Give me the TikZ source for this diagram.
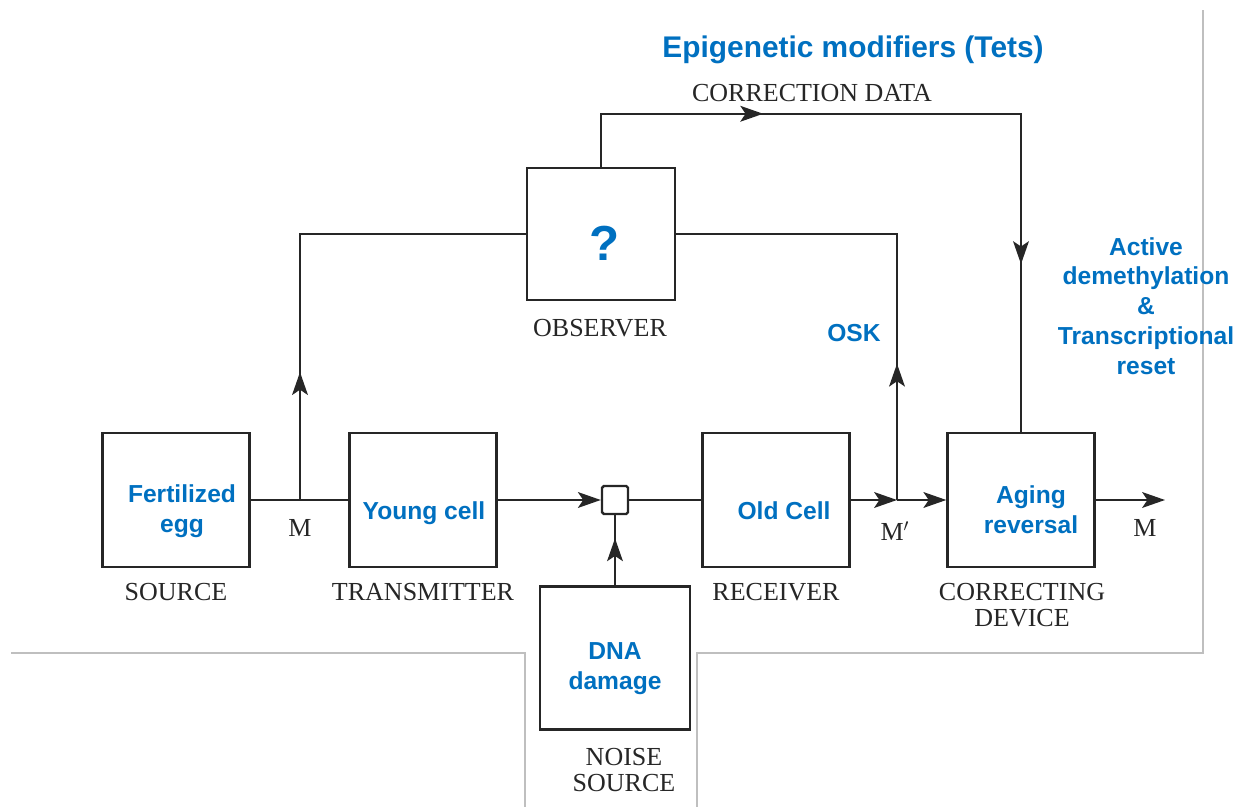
\documentclass[tikz,border=0pt]{standalone}
\usepackage{fontspec}
\setmainfont{Liberation Serif}
\setsansfont{Liberation Sans}
\usetikzlibrary{arrows.meta,decorations.markings}
\definecolor{epiblue}{RGB}{0,112,192}

\tikzset{
  block/.style={draw=black!85,line width=1.4pt,minimum width=2.94cm,minimum height=2.68cm},
  tag/.style={font=\fontsize{14.8}{14.5}\selectfont,align=center,text=black!85},
  bluetext/.style={font=\sffamily\bfseries\fontsize{14}{17}\selectfont,text=epiblue,align=center},
  wire/.style={draw=black!85,line width=1.1pt},
  tip/.style={-{Stealth[length=13pt,width=9pt,inset=3pt]}},
  midtip/.style={postaction={decorate,decoration={markings,
    mark=at position #1 with {\arrow{Stealth[length=13pt,width=9pt,inset=3pt]}}}}},
  frame/.style={draw=black!25,line width=0.6pt}
}

\begin{document}
\begin{tikzpicture}[x=0.02cm,y=-0.02cm]
\useasboundingbox (0,0) rectangle (1248,807);

% screenshot edges
\draw[frame] (11,653) -- (525,653) -- (525,807);
\draw[frame] (697,807) -- (697,653) -- (1203,653) -- (1203,10);

% blocks
\node[block] (src) at (176,500) {};
\node[bluetext] (srctext) at (182,511) {Fertilized\\egg};
\node[tag] (srclab) at (176,592) {SOURCE};
\node[block] (tx) at (423,500) {};
\node[bluetext] (txtext) at (424,513) {Young cell};
\node[tag] (txlab) at (423,592) {TRANSMITTER};
\node[draw=black!85,line width=1.4pt,rounded corners=1pt,minimum width=0.52cm,minimum height=0.56cm] (sq) at (615,500) {};
\node[block] (rx) at (776,500) {};
\node[bluetext] (rxtext) at (784,511) {Old Cell};
\node[tag] (rxlab) at (776,592) {RECEIVER};
\node[block] (cor) at (1021,500) {};
\node[bluetext] (cortext) at (1031,510) {Aging\\reversal};
\node[tag] (corlab) at (1022,605) {CORRECTING\\DEVICE};
\node[block,minimum width=3cm,minimum height=2.86cm] (noise) at (615,658) {};
\node[bluetext] (noisetext) at (615,669) {DNA\\damage};
\node[tag] (noiselab) at (624,770) {NOISE\\SOURCE};
\node[block,minimum width=2.96cm,minimum height=2.64cm] (obs) at (601,234) {};
\node[bluetext,font=\sffamily\bfseries\fontsize{28}{30}\selectfont] (obstext) at (605,243) {?};
\node[tag] (obslab) at (600,328) {OBSERVER};

% free labels
\node[bluetext,font=\sffamily\bfseries\fontsize{17}{20}\selectfont] (epi) at (853,50) {Epigenetic modifiers (Tets)};
\node[tag] (cdata) at (812,93) {CORRECTION DATA};
\node[bluetext] (osk) at (854,333) {OSK};
\node[bluetext] (active) at (1146,306) {Active\\demethylation\\\&\\Transcriptional\\reset};
\node[tag] (min) at (300,528) {M};
\node[tag] (mmid) at (895,531) {M$'$};
\node[tag] (mout) at (1145,528) {M};

\coordinate (m1) at (300,500);
\coordinate (m2) at (897,500);
\coordinate (out) at (1165,500);

% connectors
\draw[wire] (src.east) -- (tx.west);
\draw[wire,midtip=0.26] (m1) |- (obs.west);
\draw[wire,tip] (tx.east) -- (sq.west);
\draw[wire] (sq.east) -- (rx.west);
\draw[wire,midtip=0.67] (noise.north) -- (sq.south);
\draw[wire,tip] (rx.east) -- (m2);
\draw[wire,tip] (m2) -- (cor.west);
\draw[wire,midtip=0.28] (m2) |- (obs.east);
\draw[wire,midtip=0.272,midtip=0.788] (obs.north) -- ++(0,-53) -| (cor.north);
\draw[wire,tip] (cor.east) -- (out);
\end{tikzpicture}
\end{document}
